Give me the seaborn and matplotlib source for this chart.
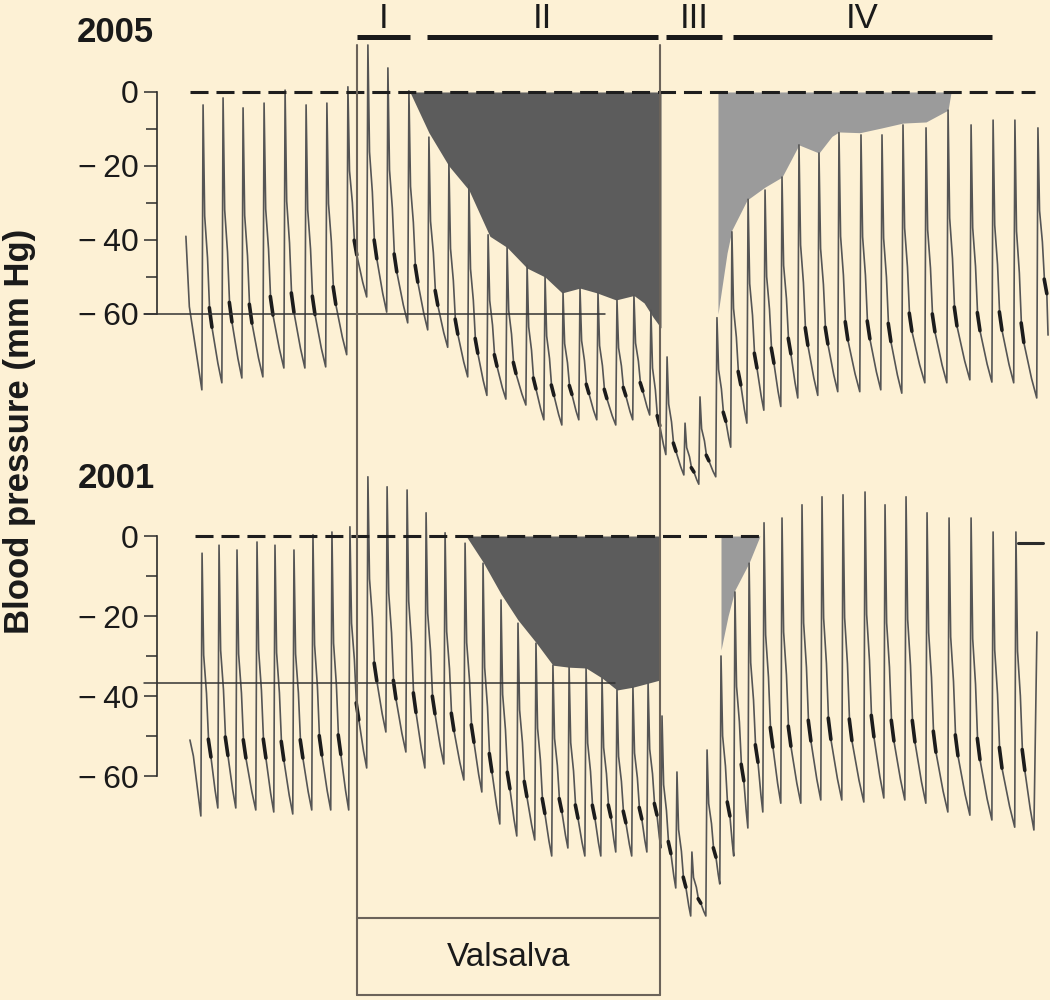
import numpy as np
import matplotlib
matplotlib.use("Agg")
import matplotlib.pyplot as plt
import seaborn as sns

sns.set_theme(style="white")
plt.rcParams['font.family'] = ['Liberation Sans Narrow', 'Liberation Sans', 'DejaVu Sans']

BG = '#FDF1D5'
TRACE = '#555555'
DARK_FILL = '#5c5c5c'
LIGHT_FILL = '#9b9b9b'

# ---- data (time in s from start of Valsalva, pressure in mm Hg) ----
# 2005 recording: beat peak times, systolic peaks, diastolic foot before each beat
top_peak_t = [-7.62, -6.63, -5.64, -4.60, -3.56, -2.52, -1.49, -0.45, 0.54, 1.53,
              2.57, 3.56, 4.55, 5.54, 6.49, 7.43, 8.42, 9.31, 10.20, 11.04,
              11.93, 12.87, 13.71, 14.55, 15.35, 16.24, 16.98, 17.82, 18.56, 19.36,
              20.20, 21.04, 21.88, 22.87, 23.86, 24.95, 25.99, 27.03, 28.17, 29.26,
              30.40, 31.49, 32.57, 33.71]
top_sys = [-3.5, -1.6, -4.3, -3.0, 0.5, -3.5, -3.0, 1.4, 12.7, 6.5,
           0.3, -12.2, -19.2, -25.0, -38.6, -42.0, -46.8, -50.0, -54.3, -53.0,
           -54.3, -56.2, -54.9, -59.0, -71.6, -89.5, -82.4, -61.0, -37.8, -29.0,
           -26.5, -23.0, -14.3, -16.5, -11.0, -11.6, -11.6, -8.9, -9.7, -4.9,
           -8.9, -7.6, -7.6, -9.7]
top_dia = [-80.5, -78.6, -77.3, -77.0, -74.6, -74.6, -74.3, -71.0, -55.4, -59.5,
           -62.4, -64.3, -69.0, -77.0, -82.0, -83.0, -84.6, -88.6, -90.0, -88.6,
           -88.6, -90.0, -88.6, -87.3, -98.0, -103.5, -106.0, -104.0, -96.0, -89.5,
           -86.0, -85.0, -82.7, -82.0, -81.0, -81.0, -80.5, -81.4, -78.6, -78.6,
           -77.8, -78.4, -78.6, -82.7]
top_lead_t, top_lead_v = [-8.47, -8.30], [-39.0, -58.0]
top_tail_t, top_tail_v = [34.21], [-65.7]

# 2001 recording
bot_peak_t = [-7.67, -6.83, -5.94, -4.95, -4.06, -3.12, -2.18, -1.24, -0.35, 0.54,
              1.49, 2.48, 3.42, 4.36, 5.35, 6.24, 7.13, 7.97, 8.86, 9.70,
              10.50, 11.34, 12.13, 12.87, 13.66, 14.41, 15.10, 15.84, 16.58, 17.33,
              18.02, 18.71, 19.41, 20.15, 21.04, 22.03, 23.02, 24.06, 25.15, 26.14,
              27.18, 28.22, 29.31, 30.40, 31.49, 32.62]
bot_sys = [-4.3, -2.3, -3.5, -1.5, -2.3, -3.5, 0.3, 1.0, 2.3, 14.8,
           12.3, 11.5, 5.8, 0.8, -1.8, -6.8, -16.0, -21.8, -26.8, -32.3,
           -32.8, -33.0, -35.5, -38.5, -37.8, -36.8, -45.0, -59.0, -79.0, -53.5,
           -30.0, -14.0, -6.8, 3.3, 4.5, 7.8, 9.8, 10.3, 11.0, 7.8,
           9.8, 5.8, 4.5, 4.5, 1.0, 1.0]
bot_dia = [-70.0, -68.0, -68.0, -68.5, -69.0, -69.5, -68.5, -68.5, -68.5, -58.0,
           -49.0, -54.0, -58.0, -57.0, -61.0, -64.0, -72.0, -75.0, -76.0, -80.0,
           -78.0, -80.0, -80.0, -79.0, -80.0, -79.0, -78.0, -88.0, -95.0, -95.0,
           -87.0, -80.0, -73.0, -69.0, -66.8, -66.8, -66.0, -66.0, -66.5, -65.5,
           -66.0, -66.8, -69.0, -69.8, -71.0, -72.8]
bot_lead_t, bot_lead_v = [-8.27, -8.10], [-51.0, -55.0]
bot_tail_t, bot_tail_v = [33.51, 33.66], [-73.5, -24.0]

# shaded areas (phase II deficit, phase IV recovery)
top_dark_t = [2.62, 3.56, 4.55, 5.54, 6.58, 7.43, 8.42, 9.31, 10.15, 11.04,
              11.88, 12.82, 13.71, 14.21, 14.65, 15.05]
top_dark_v = [0, -11.0, -20.0, -26.5, -39.0, -42.0, -47.6, -50.0, -54.3, -53.0,
              -54.3, -56.2, -55.0, -57.0, -60.8, -63.8]
top_light_t = [17.87, 17.87, 18.32, 18.56, 19.31, 20.20, 21.04, 21.88, 22.87, 23.51,
               23.86, 24.90, 25.99, 27.03, 28.17, 29.26, 29.41]
top_light_v = [0, -60.0, -43.5, -37.3, -29.2, -25.7, -23.0, -14.3, -16.5, -12.0,
               -10.8, -11.0, -9.7, -8.4, -8.1, -4.9, 0]
bot_dark_t = [5.40, 6.24, 7.13, 7.97, 8.86, 9.70, 10.50, 11.34, 12.13, 12.87,
              13.66, 14.41, 15.00]
bot_dark_v = [0, -6.5, -14.5, -21.0, -26.6, -32.3, -32.8, -33.0, -35.5, -38.5,
              -37.8, -36.8, -36.0]
bot_light_t = [18.02, 18.02, 18.37, 18.71, 19.41, 19.95]
bot_light_v = [0, -28.5, -20.0, -13.5, -6.7, 0]

# reference levels
top_zero_t = [-8.27, 33.56]
bot_zero_t = [-8.02, 19.95]
bot_end_mark_t = [32.72, 33.96]
bot_end_mark_v = -1.75
top_ref_t, top_ref_v = [-10.54, 12.28], -60.0
bot_ref_t, bot_ref_v = [-10.54, 12.77], -36.75

valsalva_t = [0.0, 15.0]
phase_labels = ['I', 'II', 'III', 'IV']
phase_start = [0.0, 3.47, 15.30, 18.61]
phase_end = [2.62, 14.90, 18.07, 31.44]

T_MIN, T_MAX = -17.673, 34.307
SPINE_T = -9.90


def build_trace(lead_t, lead_v, peak_t, sys, dia, tail_t, tail_v):
    # each beat: foot -> sharp systolic spike -> quick drop -> dicrotic notch -> decay to next foot
    ts, vs = list(lead_t), list(lead_v)
    notches = []
    lows = list(dia[1:]) + [tail_v[0]]
    nexts = list(peak_t[1:]) + [tail_t[0] + 0.06]
    for i, tp in enumerate(peak_t):
        lo = lows[i]
        pp = sys[i] - lo
        gap = nexts[i] - 0.06 - (tp + 0.44)
        ts += [tp - 0.06, tp, tp + 0.08, tp + 0.22, tp + 0.32, tp + 0.44]
        vs += [dia[i], sys[i], lo + 0.6 * pp, lo + 0.45 * pp, lo + 0.27 * pp, lo + 0.2 * pp]
        notches.append(([tp + 0.31, tp + 0.44], [lo + 0.27 * pp, lo + 0.2 * pp]))
        if gap > 0.15:
            ts.append(tp + 0.44 + 0.6 * gap)
            vs.append(lo + 0.07 * pp)
    ts += list(tail_t)
    vs += list(tail_v)
    return np.array(ts), np.array(vs), notches


fig = plt.figure(figsize=(10.5, 10), dpi=100)
fig.patch.set_facecolor(BG)

panels = [
    dict(rect=[0, 0.50, 1, 0.46], ylim=(-110.27, 14.05),
         trace=build_trace(top_lead_t, top_lead_v, top_peak_t, top_sys, top_dia, top_tail_t, top_tail_v),
         dark=(top_dark_t, top_dark_v), light=(top_light_t, top_light_v),
         zero=top_zero_t, ref=(top_ref_t, top_ref_v)),
    dict(rect=[0, 0.07, 1, 0.46], ylim=(-98.5, 16.5),
         trace=build_trace(bot_lead_t, bot_lead_v, bot_peak_t, bot_sys, bot_dia, bot_tail_t, bot_tail_v),
         dark=(bot_dark_t, bot_dark_v), light=(bot_light_t, bot_light_v),
         zero=bot_zero_t, ref=(bot_ref_t, bot_ref_v)),
]

for p in panels:
    ax = fig.add_axes(p['rect'])
    ax.set_facecolor('none')
    ax.set_xlim(T_MIN, T_MAX)
    ax.set_ylim(*p['ylim'])

    ax.fill_between(p['dark'][0], p['dark'][1], 0, color=DARK_FILL, lw=0, zorder=1)
    ax.fill_between(p['light'][0], p['light'][1], 0, color=LIGHT_FILL, lw=0, zorder=1)

    t, v, notches = p['trace']
    sns.lineplot(x=t, y=v, ax=ax, sort=False, estimator=None, color=TRACE, lw=1.2, zorder=2)
    for nt, nv in notches:
        ax.plot(nt, nv, color='#1c1c1c', lw=2.6, solid_capstyle='round', zorder=2)

    ax.plot(p['zero'], [0, 0], color='#1e1e1e', lw=2.2, dashes=(5.9, 2.6), zorder=3)
    ax.plot(p['ref'][0], [p['ref'][1]] * 2, color='#333333', lw=1.1, zorder=3)

    for s in ['top', 'right', 'bottom']:
        ax.spines[s].set_visible(False)
    ax.spines['left'].set_position(('data', SPINE_T))
    ax.spines['left'].set_bounds(-60, 0)
    ax.spines['left'].set_color('#2b2b2b')
    ax.spines['left'].set_linewidth(1.2)
    ax.set_yticks([-60, -40, -20, 0],
                  labels=['\u2212\u200960', '\u2212\u200940', '\u2212\u200920', '0'])
    ax.set_yticks([-50, -30, -10], minor=True)
    ax.tick_params(axis='y', which='major', direction='out', length=9.5, width=1.1,
                   color='#2b2b2b', labelsize=23, pad=4, labelcolor='#1a1a1a', left=True)
    ax.tick_params(axis='y', which='minor', direction='out', length=8, width=1.1,
                   color='#2b2b2b', left=True)
    ax.set_xticks([])
    ax.grid(False)

fig.axes[1].plot(bot_end_mark_t, [bot_end_mark_v] * 2, color='#2b2b2b', lw=2.2, zorder=3)

# overlay for the Valsalva box and phase bars (y in figure pixels from top)
ov = fig.add_axes([0, 0, 1, 1])
ov.set_facecolor('none')
ov.set_xlim(T_MIN, T_MAX)
ov.set_ylim(1000, 0)
ov.axis('off')

box_c = '#6b635a'
for tv in valsalva_t:
    ov.plot([tv, tv], [45, 995], color=box_c, lw=1.5)
ov.plot(valsalva_t, [918, 918], color=box_c, lw=1.5)
ov.plot(valsalva_t, [995, 995], color=box_c, lw=1.5)
ov.text(np.mean(valsalva_t), 957, 'Valsalva', ha='center', va='center', fontsize=24, color='#1a1a1a')

for lab, a, b in zip(phase_labels, phase_start, phase_end):
    ov.plot([a, b], [37, 37], color='#1a1a1a', lw=3.6, solid_capstyle='butt')
    ov.text((a + b) / 2, 28, lab, ha='center', va='baseline', fontsize=25, color='#1a1a1a',
            fontweight='light')

fig.text(77 / 1050, 1 - 42 / 1000, '2005', ha='left', va='baseline', fontsize=25,
         fontweight='bold', color='#1a1a1a')
fig.text(78 / 1050, 1 - 488 / 1000, '2001', ha='left', va='baseline', fontsize=25,
         fontweight='bold', color='#1a1a1a')
fig.text(20 / 1050, 0.569, 'Blood pressure (mm Hg)', rotation=90, ha='center', va='center',
         fontsize=25, fontweight='bold', color='#1a1a1a')

fig.savefig('out.png', dpi=100, facecolor=BG)
